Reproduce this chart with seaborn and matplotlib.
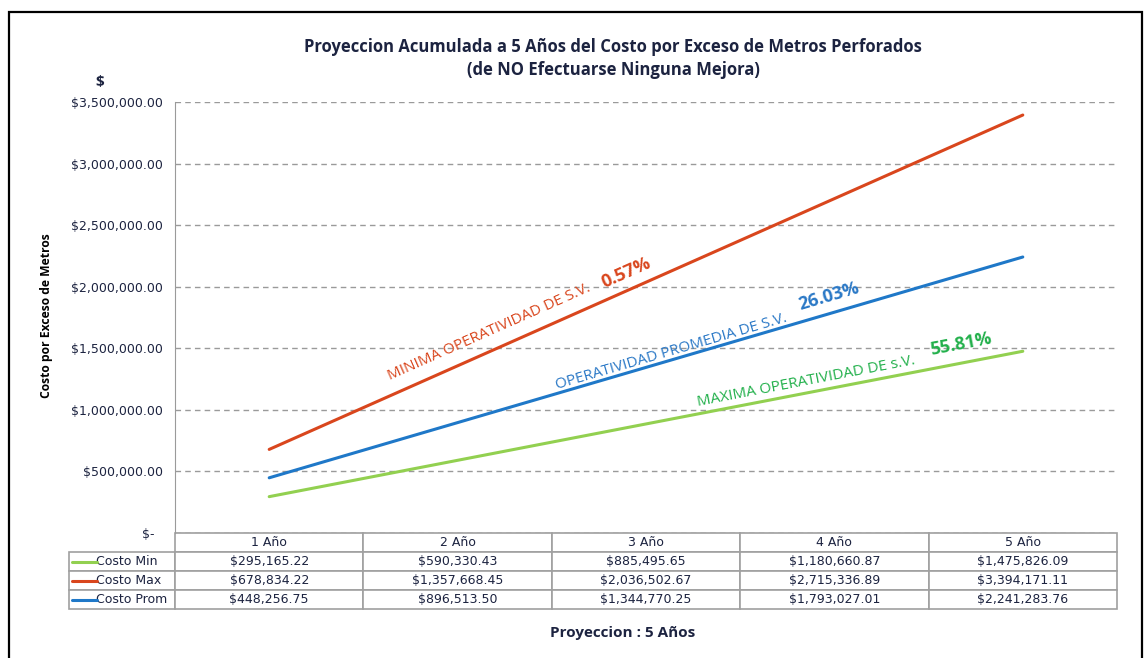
import numpy as np
import pandas as pd
import seaborn as sns
import matplotlib.pyplot as plt
from matplotlib.lines import Line2D
from matplotlib.patches import Rectangle
from matplotlib.ticker import FuncFormatter

anios = ["1 Año", "2 Año", "3 Año", "4 Año", "5 Año"]
series = ["Costo Min", "Costo Max", "Costo Prom"]
costo_min = [295165.22, 590330.43, 885495.65, 1180660.87, 1475826.09]
costo_max = [678834.22, 1357668.45, 2036502.67, 2715336.89, 3394171.11]
costo_prom = [448256.75, 896513.50, 1344770.25, 1793027.01, 2241283.76]
colores = {"Costo Min": "#92D050", "Costo Max": "#D9461D", "Costo Prom": "#1F78C8"}

# etiquetas sobre las lineas: (texto, porcentaje, color, x, y texto, x, y porcentaje)
etiquetas = [
    ("MINIMA OPERATIVIDAD DE S.V.", "0.57%", "#D9461D", 1.167, 1.63e6, 1.894, 2.11e6),
    ("OPERATIVIDAD PROMEDIA DE S.V.", "26.03%", "#2A78C6", 2.133, 1.47e6, 2.971, 1.92e6),
    ("MAXIMA OPERATIVIDAD DE s.V.", "55.81%", "#22B04B", 2.849, 1.23e6, 3.671, 1.53e6),
]

sns.set_style("white")
plt.rcParams['font.family'] = ['Open Sans', 'DejaVu Sans']
oscuro = "#1c2340"

df = pd.DataFrame({
    "anio": anios * 3,
    "serie": np.repeat(series, len(anios)),
    "valor": costo_min + costo_max + costo_prom,
})

fig = plt.figure(figsize=(11.44, 6.58), dpi=100)
ax = fig.add_axes([175/1144, 1-533/658, 942/1144, 431/658])

sns.lineplot(data=df, x="anio", y="valor", hue="serie", palette=colores,
             linewidth=2.2, legend=False, ax=ax)

ax.set_xlim(-0.5, len(anios) - 0.5)
ax.set_ylim(0, 3500000)
ax.set_yticks(np.arange(0, 3500001, 500000))
ax.yaxis.set_major_formatter(FuncFormatter(lambda v, p: "$-  " if v == 0 else f"${v:,.2f}"))
ax.tick_params(axis='y', labelsize=9, colors=oscuro, length=0, pad=9)
for lab in ax.get_yticklabels():
    lab.set_family('DejaVu Sans')
ax.set_xticks([])
ax.set_xlabel("")
ax.grid(axis='y', color='#9a9a9a', linestyle=(0, (4, 3)), linewidth=1)
for s in ["top", "right", "bottom"]:
    ax.spines[s].set_visible(False)
ax.spines["left"].set_color("#9a9a9a")

ax.set_ylabel("Costo por Exceso de Metros", fontweight='bold', fontsize=8.7, color='black')
ax.yaxis.set_label_coords((53-175)/942, 0.505)

# angulos de las lineas en pixeles
def angulo(vals):
    p0 = ax.transData.transform((0, vals[0]))
    p1 = ax.transData.transform((4, vals[4]))
    return np.degrees(np.arctan2(p1[1]-p0[1], p1[0]-p0[0]))

angs = [angulo(costo_max), angulo(costo_prom), angulo(costo_min)]
for (txt, pct, col, x1, y1, x2, y2), a in zip(etiquetas, angs):
    ax.text(x1, y1, txt, color=col, fontsize=11, rotation=a, ha='center', va='center',
            rotation_mode='anchor')
    ax.text(x2, y2, pct, color=col, fontsize=13, fontweight='bold', rotation=a,
            ha='center', va='center', rotation_mode='anchor')

# tabla de datos
texto_celdas = [[f"${v:,.2f}" for v in fila] for fila in [costo_min, costo_max, costo_prom]]
tabla = ax.table(cellText=texto_celdas, rowLabels=["    " + s for s in series],
                 colLabels=anios, cellLoc='center', rowLoc='left',
                 bbox=[0, -76/431, 1, 76/431])
tabla._autoColumns = []  # ancho fijo para la columna de etiquetas
tabla.auto_set_font_size(False)
tabla.set_fontsize(9)
for (r, c), cell in tabla.get_celld().items():
    cell.set_edgecolor("#a0a0a0")
    cell.set_linewidth(1.2)
    cell.get_text().set_color(oscuro)
    cell.get_text().set_family('DejaVu Sans')
    if c == -1:
        cell.set_width(106/942)

fig.canvas.draw()
inv = fig.transFigure.inverted()
for i, s in enumerate(series):
    bb = tabla[(i + 1, -1)].get_window_extent(fig.canvas.get_renderer())
    ym = (bb.y0 + bb.y1) / 2
    (xa, ya) = inv.transform((bb.x0 + 3, ym))
    (xb, yb) = inv.transform((bb.x0 + 28, ym))
    fig.add_artist(Line2D([xa, xb], [ya, yb], color=colores[s], linewidth=2.2))

fig.text(613/1144, 1-47/658, "Proyeccion Acumulada a 5 Años del Costo por Exceso de Metros Perforados",
         ha='center', va='center', fontsize=12, fontweight='bold', color=oscuro)
fig.text(613/1144, 1-70/658, "(de NO Efectuarse Ninguna Mejora)",
         ha='center', va='center', fontsize=12, fontweight='bold', color=oscuro)
fig.text(100/1144, 1-82/658, "$", ha='center', va='center', fontsize=11,
         fontweight='bold', color=oscuro)
fig.text(623/1144, 1-633/658, "Proyeccion : 5 Años", ha='center', va='center',
         fontsize=11, fontweight='bold', color=oscuro)

fig.add_artist(Rectangle((9/1144, -0.02), 1133/1144, 1.02 - 12/658, transform=fig.transFigure,
                         fill=False, edgecolor='black', linewidth=1.6))

fig.savefig("out.png", dpi=100, facecolor='white')
